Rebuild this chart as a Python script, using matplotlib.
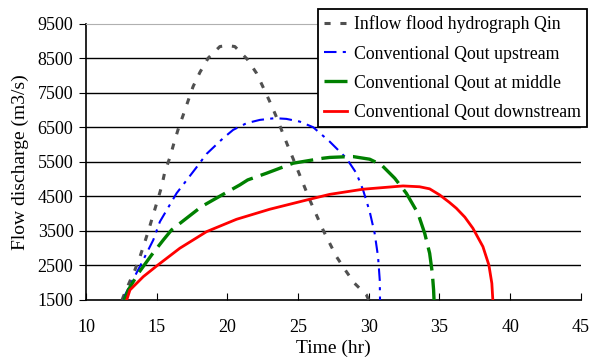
import matplotlib
matplotlib.use('Agg')
import matplotlib.pyplot as plt

plt.rcParams['font.family'] = ['Liberation Serif', 'DejaVu Serif']

# Inflow flood hydrograph Qin
t_in = [12.55, 12.64, 12.99, 13.46, 13.82, 14.17, 14.47, 15.07, 15.35, 15.58, 15.94,
        16.22, 16.52, 16.88, 17.23, 17.58, 18.06, 18.64, 19.47, 20.0, 20.53, 21.40,
        22.06, 22.53, 23.0, 23.43, 23.83, 24.23, 24.61, 25.83, 26.77, 27.24, 27.72,
        28.42, 29.0, 29.84, 30.0]
q_in = [1500, 1596, 1935, 2370, 2755, 3190, 3578, 4399, 4785, 5219, 5635,
        6042, 6446, 6862, 7278, 7687, 8096, 8506, 8842, 8870, 8842, 8478,
        8072, 7664, 7248, 6842, 6428, 6013, 5636, 4399, 3529, 3143, 2755,
        2320, 1983, 1645, 1500]

# Conventional Qout upstream
t_up = [12.7, 12.76, 13.93, 14.76, 15.23, 16.41, 17.77, 18.53, 19.70, 20.41, 21.36,
        22.30, 23.36, 24.18, 25.12, 26.07, 27.24, 28.42, 29.13, 29.60, 30.07,
        30.42, 30.66, 30.78, 30.8]
q_up = [1500, 1645, 2563, 3239, 3770, 4593, 5317, 5732, 6186, 6428, 6622,
        6717, 6767, 6746, 6668, 6505, 6088, 5607, 5172, 4688, 4059,
        3433, 2755, 2080, 1500]

# Conventional Qout at middle
t_mid = [12.7, 12.76, 12.99, 13.70, 14.64, 15.47, 16.05, 17.11, 18.17, 19.0, 20.88,
         21.44, 22.77, 24.65, 26.77, 27.24, 28.66, 28.89, 30.07, 30.90, 31.84,
         32.66, 33.48, 33.96, 34.31, 34.50, 34.59, 34.62]
q_mid = [1500, 1560, 1790, 2273, 2804, 3239, 3529, 3868, 4205, 4399, 4833,
         4978, 5172, 5462, 5607, 5630, 5654, 5654, 5578, 5413, 5027,
         4593, 4013, 3433, 2854, 2273, 1790, 1500]

# Conventional Qout downstream
t_dn = [12.88, 13.11, 14.05, 15.0, 16.64, 18.53, 20.65, 23.0, 25.83, 27.24,
        29.60, 32.43, 33.6, 34.31, 35.02, 35.7, 36.2, 36.8, 37.37, 38.08, 38.50, 38.71, 38.78]
q_dn = [1500, 1790, 2175, 2486, 3000, 3480, 3838, 4129, 4419, 4560,
        4709, 4804, 4780, 4720, 4543, 4330, 4157, 3900, 3578, 3045, 2514, 1983, 1500]

labels = ['Inflow flood hydrograph Qin', 'Conventional Qout upstream',
          'Conventional Qout at middle', 'Conventional Qout downstream']

fig = plt.figure(figsize=(5.89, 3.61), dpi=100)
ax = fig.add_axes([0.146, 0.169, 0.840, 0.765])

yticks = list(range(1500, 9501, 1000))
for y in yticks[1:-1]:
    ax.axhline(y, color='black', lw=1.0, zorder=1)

ax.plot(t_in, q_in, color='#505050', lw=2.2, dashes=(2, 3.2), label=labels[0], zorder=3)
ax.plot(t_up, q_up, color='#0000ff', lw=1.5, dashes=(6, 3, 1.5, 3), label=labels[1], zorder=3)
ax.plot(t_mid, q_mid, color='#008000', lw=2.4, dashes=(7, 2.5), label=labels[2], zorder=3)
ax.plot(t_dn, q_dn, color='#ff0000', lw=2.0, label=labels[3], zorder=4)

ax.set_xlim(10, 45)
ax.set_ylim(1500, 9500)
ax.set_xticks(range(10, 46, 5))
ax.set_yticks(yticks)
ax.tick_params(axis='x', direction='in', length=5, labelsize=13, pad=14)
ax.tick_params(axis='y', direction='out', length=5, labelsize=13, pad=4)

ax.spines['right'].set_visible(False)
ax.spines['top'].set_color('#b0b0b0')
ax.spines['left'].set_linewidth(1.2)
ax.spines['bottom'].set_linewidth(1.2)

ax.set_xlabel('Time (hr)', fontsize=14, labelpad=2)
ax.set_ylabel('Flow discharge (m3/s)', fontsize=14, labelpad=6)

leg = ax.legend(loc='upper right', bbox_to_anchor=(0.9966, 0.974), bbox_transform=fig.transFigure,
                fontsize=12.8, frameon=True, fancybox=False, framealpha=1,
                handlelength=1.25, handletextpad=0.4, labelspacing=0.68, borderpad=0.35,
                borderaxespad=0)
leg.get_frame().set_edgecolor('black')
leg.get_frame().set_linewidth(1.3)

plt.savefig('out.png', dpi=100)
